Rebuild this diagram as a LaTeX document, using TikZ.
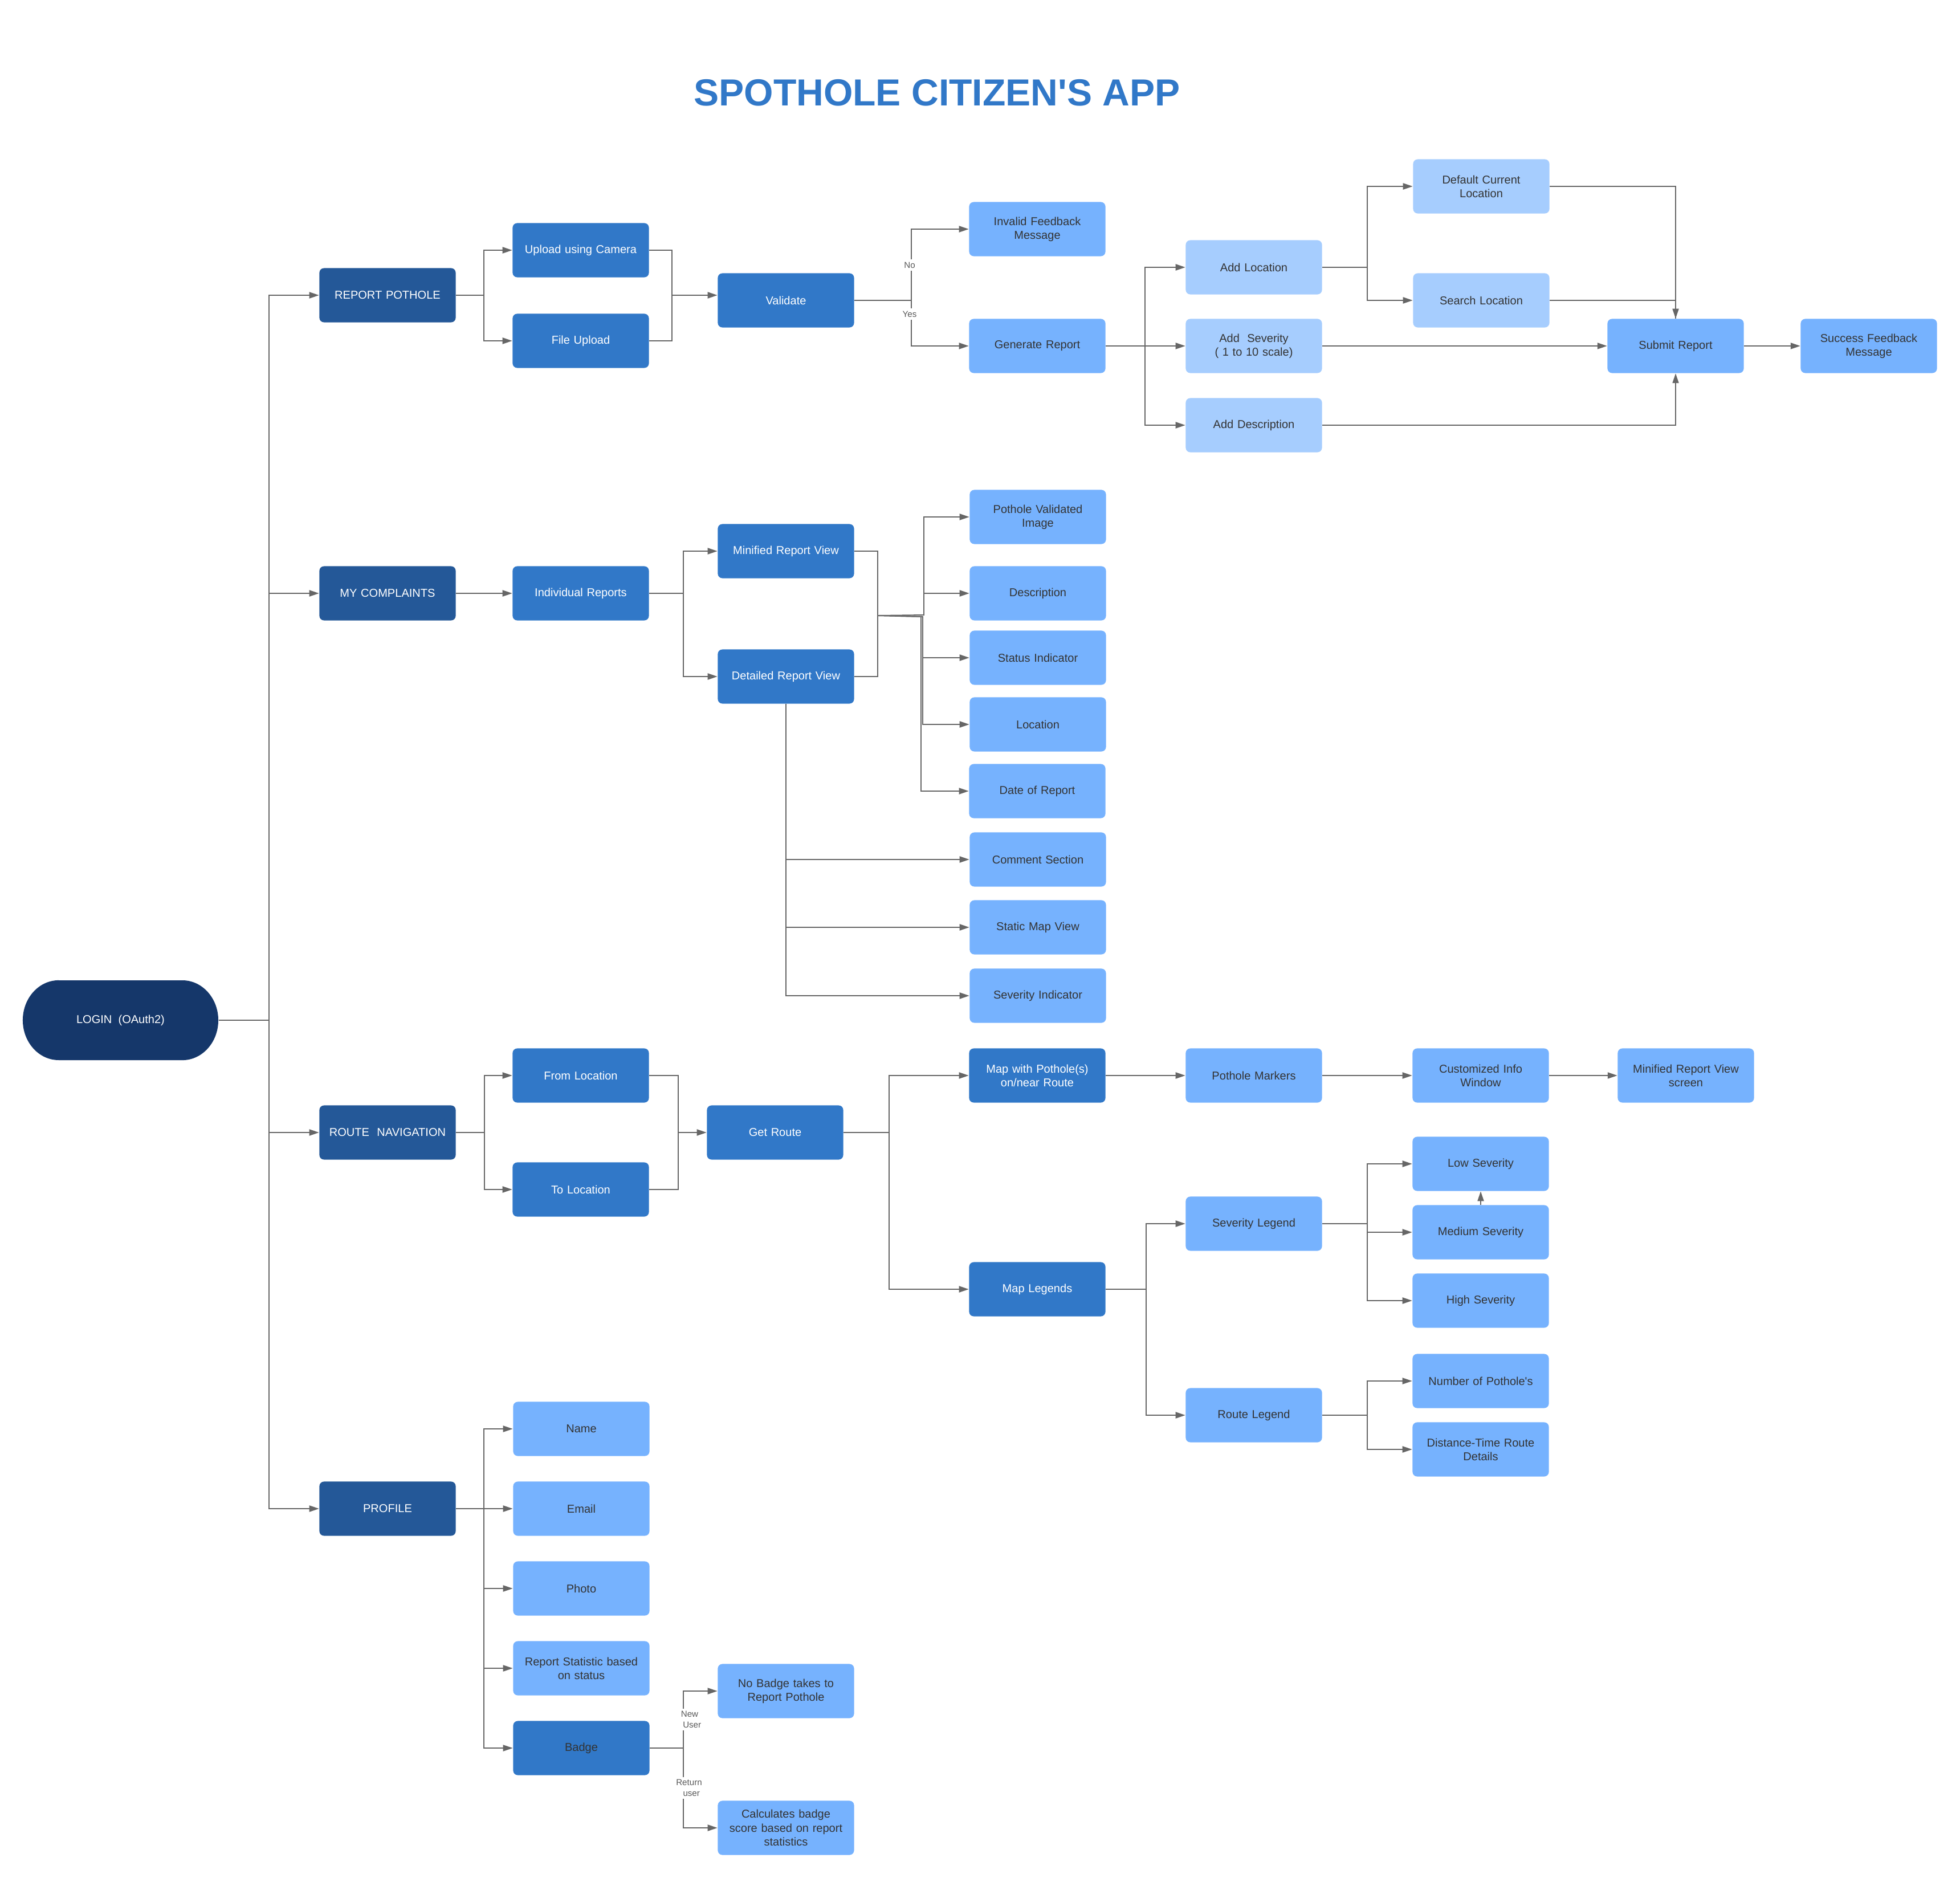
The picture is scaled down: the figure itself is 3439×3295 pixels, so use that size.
\documentclass[tikz,border=0pt]{standalone}
\usepackage{fontspec}
\setmainfont{Liberation Sans}[Ligatures=TeXOff]
\usetikzlibrary{arrows.meta,calc}
\definecolor{cNavy}{HTML}{15376A}
\definecolor{cLvl}{HTML}{245898}
\definecolor{cMid}{HTML}{3178C8}
\definecolor{cLight}{HTML}{76B2FE}
\definecolor{cPale}{HTML}{A6CDFE}
\definecolor{cText}{HTML}{333333}
\definecolor{cLine}{HTML}{666666}
\definecolor{cLbl}{HTML}{595959}
\tikzset{
  box/.style={rectangle, rounded corners=0.08cm, minimum width=2.39cm, minimum height=0.95cm,
    inner sep=0pt, align=center, text width=2.3cm, font=\fontsize{5.7}{6.9}\selectfont},
  lvlone/.style={box, fill=cLvl, text=white},
  midbox/.style={box, fill=cMid, text=white},
  lightbox/.style={box, fill=cLight, text=cText},
  palebox/.style={box, fill=cPale, text=cText},
  conn/.style={draw=cLine, line width=0.55pt},
  arr/.style={conn, -{Triangle[length=0.17cm,width=0.11cm]}},
  lbl/.style={fill=white, text=cLbl, font=\fontsize{4.3}{5.4}\selectfont, inner sep=1.3pt, align=center},
}
\begin{document}
\begin{tikzpicture}[x=0.01cm,y=-0.01cm]
\useasboundingbox[fill=white] (0,0) rectangle (3439,3295);

% title
\node[text=cMid, font=\fontsize{18.8}{22}\selectfont\bfseries] (title) at (1644,163) {SPOTHOLE CITIZEN'S APP};

% login
\fill[cNavy] (103,1720) -- (320,1720) arc[start angle=90,end angle=-90,x radius=0.63cm,y radius=0.7cm]
  -- (103,1860) arc[start angle=270,end angle=90,x radius=0.63cm,y radius=0.7cm] -- cycle;
\node[minimum width=3.43cm, minimum height=1.4cm, inner sep=0pt, text=white, font=\fontsize{5.7}{6.9}\selectfont] (login) at (211.5,1790) {LOGIN~~(OAuth2)};

% level one
\node[lvlone] (rp) at (680,518) {REPORT POTHOLE};
\node[lvlone] (mc) at (680,1041) {MY COMPLAINTS};
\node[lvlone] (rn) at (680,1987) {ROUTE~~NAVIGATION};
\node[lvlone] (pf) at (680,2647) {PROFILE};

% report pothole branch
\node[midbox] (cam) at (1019,439) {Upload using Camera};
\node[midbox] (fu) at (1019,598) {File Upload};
\node[midbox] (val) at (1379,527) {Validate};
\node[lightbox] (inv) at (1820,402) {Invalid Feedback\\Message};
\node[lightbox] (gen) at (1820,607) {Generate Report};
\node[palebox] (aloc) at (2200,469) {Add Location};
\node[palebox] (asev) at (2200,607) {Add~~Severity\\(~1 to 10 scale)};
\node[palebox] (adesc) at (2200,746) {Add Description};
\node[palebox] (dcl) at (2599,327) {Default Current\\Location};
\node[palebox] (sloc) at (2599,527) {Search Location};
\node[lightbox] (sub) at (2940,607) {Submit Report};
\node[lightbox] (suc) at (3279,607) {Success Feedback\\Message};

% my complaints branch
\node[midbox] (ir) at (1019,1041) {Individual Reports};
\node[midbox] (min) at (1379,967) {Minified Report View};
\node[midbox] (det) at (1379,1187) {Detailed Report View};
\node[lightbox] (pvi) at (1821,907) {Pothole Validated\\Image};
\node[lightbox] (desc) at (1821,1041) {Description};
\node[lightbox] (stat) at (1821,1154) {Status Indicator};
\node[lightbox] (loc) at (1821,1271) {Location};
\node[lightbox] (date) at (1820,1388) {Date of Report};
\node[lightbox] (com) at (1821,1508) {Comment Section};
\node[lightbox] (smv) at (1821,1627) {Static Map View};
\node[lightbox] (sevi) at (1821,1747) {Severity Indicator};

% route navigation branch
\node[midbox] (from) at (1019,1887) {From Location};
\node[midbox] (to) at (1019,2087) {To Location};
\node[midbox] (gr) at (1360,1987) {Get Route};
\node[midbox] (mwp) at (1820,1887) {Map with Pothole(s)\\on/near Route};
\node[midbox] (ml) at (1820,2262) {Map Legends};
\node[lightbox] (pm) at (2200,1887) {Pothole Markers};
\node[lightbox] (ciw) at (2598,1887) {Customized Info\\Window};
\node[lightbox] (mrv) at (2958,1887) {Minified Report View\\screen};
\node[lightbox] (sleg) at (2200,2147) {Severity Legend};
\node[lightbox] (rleg) at (2200,2483) {Route Legend};
\node[lightbox] (low) at (2598,2042) {Low Severity};
\node[lightbox] (med) at (2598,2162) {Medium Severity};
\node[lightbox] (high) at (2598,2282) {High Severity};
\node[lightbox] (num) at (2598,2423) {Number of Pothole's};
\node[lightbox] (dt) at (2598,2543) {Distance-Time Route\\Details};

% profile branch
\node[lightbox] (name) at (1020,2507) {Name};
\node[lightbox] (email) at (1020,2647) {Email};
\node[lightbox] (photo) at (1020,2787) {Photo};
\node[lightbox] (rs) at (1020,2927) {Report Statistic based\\on status};
\node[midbox, text=cText] (badge) at (1020,3067) {Badge};
\node[lightbox] (nb) at (1379,2967) {No Badge takes to\\Report Pothole};
\node[lightbox] (calc) at (1379,3207) {Calculates badge\\score based on report\\statistics};

% junction coordinates
\coordinate (tL) at (472,1790);
\coordinate (bRP) at (849,518);
\coordinate (jUp) at (1179,518);
\coordinate (bVal) at (1599,527);
\coordinate (bGen) at (2009,607);
\coordinate (bLoc) at (2399,469);
\coordinate (bIR) at (1199,1041);
\coordinate (jMD) at (1540,1080);
\coordinate (bA) at (1621,1079);
\coordinate (bB) at (1619,1082);
\coordinate (bC) at (1616,1082);
\coordinate (bRN) at (850,1987);
\coordinate (jFT) at (1190,1987);
\coordinate (bGR) at (1560,1987);
\coordinate (bML) at (2011,2262);
\coordinate (bSL) at (2399,2147);
\coordinate (bRL) at (2399,2483);
\coordinate (bPF) at (849,2647);
\coordinate (bBD) at (1199,3067);

% trunk
\draw[conn] (login.east) -- (tL);
\draw[arr] (tL) |- (rp.west);
\draw[arr] (tL) |- (mc.west);
\draw[arr] (tL) |- (rn.west);
\draw[arr] (tL) |- (pf.west);

% report pothole connectors
\draw[conn] (rp.east) -- (bRP);
\draw[arr] (bRP) |- (cam.west);
\draw[arr] (bRP) |- (fu.west);
\draw[conn] (cam.east) -| (jUp);
\draw[conn] (fu.east) -| (jUp);
\draw[arr] (jUp) -- (jUp -| val.west);
\draw[conn] (val.east) -- (bVal);
\draw[arr] (bVal) |- (inv.west);
\draw[arr] (bVal) |- (gen.west);
\draw[conn] (gen.east) -- (bGen);
\draw[arr] (bGen) |- (aloc.west);
\draw[arr] (bGen) |- (asev.west);
\draw[arr] (bGen) |- (adesc.west);
\draw[conn] (aloc.east) -- (bLoc);
\draw[arr] (bLoc) |- (dcl.west);
\draw[arr] (bLoc) |- (sloc.west);
\draw[conn] (sloc.east) -| (sub.north);
\draw[arr] (dcl.east) -| (sub.north);
\draw[arr] (asev.east) -- (sub.west);
\draw[arr] (adesc.east) -| (sub.south);
\draw[arr] (sub.east) -- (suc.west);
\node[lbl] (lNo) at (1596,465) {No};
\node[lbl] (lYes) at (1596,551) {Yes};

% my complaints connectors
\draw[arr] (mc.east) -- (ir.west);
\draw[conn] (ir.east) -- (bIR);
\draw[arr] (bIR) |- (min.west);
\draw[arr] (bIR) |- (det.west);
\draw[conn] (min.east) -| (jMD);
\draw[conn] (det.east) -| (jMD);
\draw[arr] (jMD) -- (bA) |- (pvi.west);
\draw[arr] (bA) |- (desc.west);
\draw[arr] (jMD) -- (bB) |- (stat.west);
\draw[arr] (bB) |- (loc.west);
\draw[arr] (jMD) -- (bC) |- (date.west);
\draw[arr] (det.south) |- (com.west);
\draw[arr] (det.south) |- (smv.west);
\draw[arr] (det.south) |- (sevi.west);

% route navigation connectors
\draw[conn] (rn.east) -- (bRN);
\draw[arr] (bRN) |- (from.west);
\draw[arr] (bRN) |- (to.west);
\draw[conn] (from.east) -| (jFT);
\draw[conn] (to.east) -| (jFT);
\draw[arr] (jFT) -- (gr.west);
\draw[conn] (gr.east) -- (bGR);
\draw[arr] (bGR) |- (mwp.west);
\draw[arr] (bGR) |- (ml.west);
\draw[arr] (mwp.east) -- (pm.west);
\draw[arr] (pm.east) -- (ciw.west);
\draw[arr] (ciw.east) -- (mrv.west);
\draw[conn] (ml.east) -- (bML);
\draw[arr] (bML) |- (sleg.west);
\draw[arr] (bML) |- (rleg.west);
\draw[conn] (sleg.east) -- (bSL);
\draw[arr] (bSL) |- (low.west);
\draw[arr] (bSL) |- (med.west);
\draw[arr] (bSL) |- (high.west);
\draw[arr] (med.north) -- (low.south);
\draw[conn] (rleg.east) -- (bRL);
\draw[arr] (bRL) |- (num.west);
\draw[arr] (bRL) |- (dt.west);

% profile connectors
\draw[conn] (pf.east) -- (bPF);
\draw[arr] (bPF) |- (name.west);
\draw[arr] (bPF) |- (email.west);
\draw[arr] (bPF) |- (photo.west);
\draw[arr] (bPF) |- (rs.west);
\draw[arr] (bPF) |- (badge.west);
\draw[conn] (badge.east) -- (bBD);
\draw[arr] (bBD) |- (nb.west);
\draw[arr] (bBD) |- (calc.west);
\node[lbl] (lNew) at (1210,3017) {New\\~~User};
\node[lbl] (lRet) at (1209,3137) {Return\\~~user};
\end{tikzpicture}
\end{document}
